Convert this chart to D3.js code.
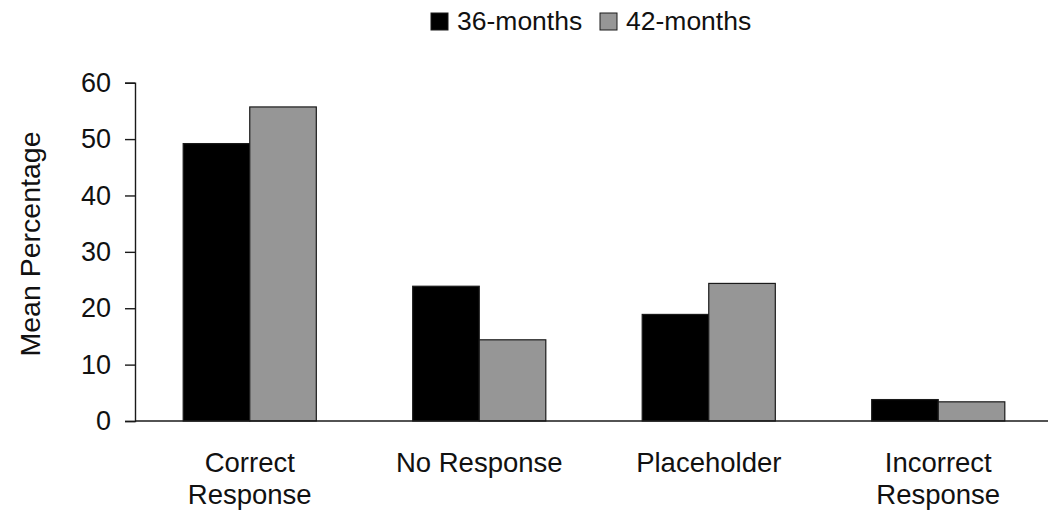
<!DOCTYPE html>
<html>
<head>
<meta charset="utf-8">
<script src="https://cdn.jsdelivr.net/npm/d3@7"></script>
<style>
  html, body { margin: 0; padding: 0; background: #fff; }
  svg { display: block; font-family: "Liberation Sans", Arial, sans-serif; }
</style>
</head>
<body>
<div id="chart"></div>
<script>
// categories (each split into display lines)
const categories = ["Correct Response", "No Response", "Placeholder", "Incorrect Response"];
const categoryLines = [["Correct", "Response"], ["No Response"], ["Placeholder"], ["Incorrect", "Response"]];
const seriesNames = ["36-months", "42-months"];
const months36 = [49.2, 23.9, 18.9, 3.8];
const months42 = [55.7, 14.4, 24.4, 3.4];
const yTicks = [0, 10, 20, 30, 40, 50, 60];

const width = 1048, height = 519;
const colors = { "36-months": "#000000", "42-months": "#969696" };

const svg = d3.select("#chart").append("svg")
    .attr("width", width)
    .attr("height", height);

// plot area runs a bit past the right edge, like the cropped original
const x0 = d3.scaleBand().domain(categories).range([135, 1053]).padding(0);
const gap = 0.42 * x0.bandwidth();
const x1 = d3.scaleBand().domain(seriesNames).range([gap / 2, x0.bandwidth() - gap / 2]).padding(0);
const y = d3.scaleLinear().domain([0, 60]).range([421, 82.7]);

const rows = categories.map((c, i) => ({
    category: c,
    values: [
        { series: "36-months", value: months36[i] },
        { series: "42-months", value: months42[i] }
    ]
}));

// bars
const groups = svg.append("g").selectAll("g")
    .data(rows)
    .enter().append("g")
    .attr("transform", d => `translate(${x0(d.category)},0)`);

groups.selectAll("rect")
    .data(d => d.values)
    .enter().append("rect")
    .attr("x", d => x1(d.series))
    .attr("y", d => y(d.value))
    .attr("width", x1.bandwidth())
    .attr("height", d => y(0) - y(d.value))
    .attr("fill", d => colors[d.series])
    .attr("stroke", "#1a1a1a")
    .attr("stroke-width", 1.2);

// y axis
const yAxis = svg.append("g")
    .attr("transform", "translate(135,0)")
    .call(d3.axisLeft(y).tickValues(yTicks).tickSize(10).tickPadding(14));
yAxis.select(".domain").attr("stroke", "#1a1a1a").attr("stroke-width", 1.4);
yAxis.selectAll(".tick line").attr("stroke", "#1a1a1a").attr("stroke-width", 1.4);
yAxis.selectAll(".tick text")
    .attr("font-size", 27)
    .attr("fill", "#111")
    .attr("font-family", "Liberation Sans, Arial, sans-serif");

// x axis baseline
svg.append("line")
    .attr("x1", 135).attr("x2", width)
    .attr("y1", y(0)).attr("y2", y(0))
    .attr("stroke", "#1a1a1a")
    .attr("stroke-width", 1.4);

// category labels
const catLabels = svg.append("g").selectAll("text")
    .data(categories)
    .enter().append("text")
    .attr("text-anchor", "middle")
    .attr("font-size", 27.5)
    .attr("fill", "#111")
    .attr("transform", d => `translate(${x0(d) + x0.bandwidth() / 2},0)`);

catLabels.selectAll("tspan")
    .data((d, i) => categoryLines[i])
    .enter().append("tspan")
    .attr("x", 0)
    .attr("y", (d, i) => 472 + i * 32)
    .text(d => d);

// y axis title
svg.append("text")
    .attr("transform", "translate(40,244) rotate(-90)")
    .attr("text-anchor", "middle")
    .attr("font-size", 28.5)
    .attr("fill", "#111")
    .text("Mean Percentage");

// legend
const legendX = [431, 600];
const legend = svg.append("g").selectAll("g")
    .data(seriesNames)
    .enter().append("g")
    .attr("transform", (d, i) => `translate(${legendX[i]},13)`);

legend.append("rect")
    .attr("width", 17).attr("height", 17)
    .attr("fill", d => colors[d])
    .attr("stroke", "#1a1a1a")
    .attr("stroke-width", 1);

legend.append("text")
    .attr("x", 26)
    .attr("y", 17)
    .attr("font-size", 26.5)
    .attr("fill", "#111")
    .text(d => d);
</script>
</body>
</html>
